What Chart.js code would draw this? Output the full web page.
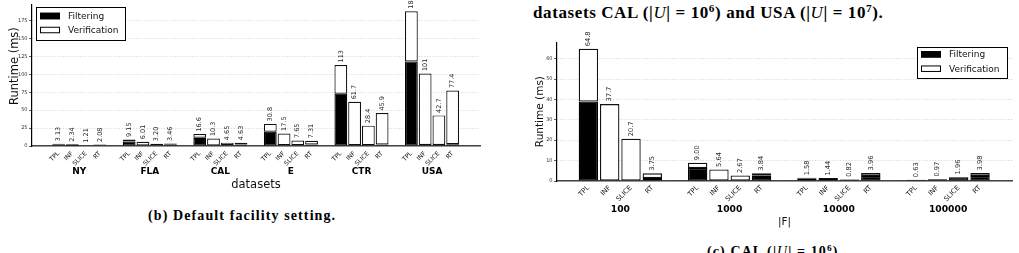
<!DOCTYPE html>
<html><head><meta charset="utf-8"><title>Runtime</title>
<script src="https://cdn.jsdelivr.net/npm/chart.js@4.4.1/dist/chart.umd.min.js"></script>
<style>
html,body{margin:0;padding:0;background:#fff;}
body{width:1019px;height:253px;overflow:hidden;position:relative;}
canvas{position:absolute;display:block;}
#cv1{left:0;top:0;}
#cv2{left:500px;top:25px;}
.cap{position:absolute;font-family:"Liberation Serif","DejaVu Serif",serif;font-weight:bold;color:#000;white-space:nowrap;line-height:1;}
.cap i{font-weight:normal;}
.sup{font-size:0.66em;position:relative;top:-0.5em;}
</style></head><body>
<div class="cap" style="left:533px;top:4px;font-size:17px;letter-spacing:0.6px;">datasets CAL (|<i>U</i>| = 10<span class="sup">6</span>) and USA (|<i>U</i>| = 10<span class="sup">7</span>).</div>
<div class="cap" style="left:148px;top:209px;font-size:14px;letter-spacing:1.1px;">(b) Default facility setting.</div>
<div class="cap" style="left:707px;top:245px;font-size:14px;letter-spacing:1.1px;">(c) CAL (|<i>U</i>| = 10<span class="sup">6</span>)</div>
<canvas id="cv1" width="500" height="193"></canvas>
<canvas id="cv2" width="519" height="205"></canvas>
<script>
// ---------- data ----------
const methods = ['TPL', 'INF', 'SLICE', 'RT'];
const seriesNames = ['Filtering', 'Verification'];

// (b) default facility setting
const datasetNames = ['NY', 'FLA', 'CAL', 'E', 'CTR', 'USA'];
const tplTotal   = [3.13, 9.15, 16.6, 30.8, 113, 188];
const infTotal   = [2.34, 6.01, 10.3, 17.5, 61.7, 101];
const sliceTotal = [1.21, 3.20, 4.65, 7.65, 28.4, 42.7];
const rtTotal    = [2.08, 3.46, 4.63, 7.31, 45.9, 77.4];
const tplFilter   = [2.4, 6.3, 11.5, 20.0, 73, 118];
const infFilter   = [0.5, 0.6, 0.8, 1.0, 1.2, 1.4];
const sliceFilter = [0.6, 0.9, 1.0, 1.0, 1.2, 1.3];
const rtFilter    = [1.2, 1.6, 2.0, 2.0, 2.2, 2.5];
const yTicksLeft = [0, 25, 50, 75, 100, 125, 150, 175];

// (c) CAL, varying |F|
const fSizes = ['100', '1000', '10000', '100000'];
const calTplTotal   = [64.8, 9.00, 1.58, 0.63];
const calInfTotal   = [37.7, 5.64, 1.44, 0.97];
const calSliceTotal = [20.7, 2.67, 0.82, 1.96];
const calRtTotal    = [3.75, 3.84, 3.96, 3.98];
const calTplFilter   = [39.0, 6.4, 1.4, 0.5];
const calInfFilter   = [0.2, 0.2, 1.0, 0.8];
const calSliceFilter = [0.2, 0.2, 0.7, 1.8];
const calRtFilter    = [1.5, 2.6, 2.5, 2.5];
const yTicksRight = [0, 10, 20, 30, 40, 50, 60];

// ---------- helpers ----------
const FONT = '"DejaVu Sans", Verdana, sans-serif';
function fmt(v) { return v >= 100 ? v.toFixed(0) : v >= 10 ? v.toFixed(1) : v.toFixed(2); }

const valueLabels = {
  id: 'valueLabels',
  afterDatasetsDraw(chart, args, o) {
    const ctx = chart.ctx;
    chart.data.datasets.forEach((ds, di) => {
      if (!ds.totals) return;
      chart.getDatasetMeta(di).data.forEach((bar, i) => {
        ctx.save();
        ctx.translate(bar.x, bar.y - o.gap);
        ctx.rotate(-Math.PI / 2);
        ctx.font = o.size + 'px ' + FONT;
        ctx.fillStyle = '#222';
        ctx.textAlign = 'left';
        ctx.textBaseline = 'middle';
        ctx.fillText(fmt(ds.totals[i]), 0, 0);
        ctx.restore();
      });
    });
  }
};

const boxLegend = {
  id: 'boxLegend',
  afterDraw(chart, args, o) {
    const ctx = chart.ctx;
    const items = chart.data.datasets.slice(0, 2);
    ctx.save();
    ctx.fillStyle = '#fff';
    ctx.fillRect(o.x, o.y, o.w, o.h);
    ctx.strokeStyle = '#000';
    ctx.lineWidth = 1;
    ctx.strokeRect(o.x + 0.5, o.y + 0.5, o.w, o.h);
    items.forEach((ds, k) => {
      const yy = o.y + o.first + k * o.step;
      ctx.fillStyle = ds.backgroundColor;
      ctx.fillRect(o.px, yy - o.ph / 2, o.pw, o.ph);
      ctx.strokeStyle = '#000';
      ctx.lineWidth = 1;
      ctx.strokeRect(o.px + 0.5, yy - o.ph / 2 + 0.5, o.pw - 1, o.ph - 1);
      ctx.fillStyle = '#111';
      ctx.font = o.size + 'px ' + FONT;
      ctx.textAlign = 'left';
      ctx.textBaseline = 'middle';
      ctx.fillText(ds.label, o.tx, yy + 0.5);
    });
    ctx.restore();
  }
};

function makeChart(id, c) {
  const catPct = 0.78;
  const datasets = [];
  methods.forEach((m, k) => {
    const f = c.filters[k], t = c.totals[k];
    const common = { stack: m, borderWidth: c.bw, borderSkipped: false,
      categoryPercentage: catPct, barPercentage: c.barPct, xAxisID: 'x', yAxisID: 'y' };
    datasets.push(Object.assign({ label: seriesNames[0], backgroundColor: '#000', borderColor: '#000',
      data: f.map((v, i) => ({ x: i, y: v })) }, common));
    datasets.push(Object.assign({ label: seriesNames[1], backgroundColor: '#fff', borderColor: '#111',
      totals: t, data: t.map((v, i) => ({ x: i, y: +(v - f[i]).toFixed(4) })) }, common));
  });
  const slot = catPct / methods.length;
  const methodPos = [];
  c.groups.forEach((g, i) => methods.forEach((m, k) => methodPos.push(i + (k - (methods.length - 1) / 2) * slot)));

  return new Chart(document.getElementById(id), {
    type: 'bar',
    data: { datasets },
    plugins: [valueLabels, boxLegend],
    options: {
      responsive: false, animation: false, devicePixelRatio: 1,
      layout: { padding: c.padding },
      plugins: {
        legend: { display: false }, tooltip: { enabled: false },
        valueLabels: { gap: 2.5, size: c.valueSize },
        boxLegend: c.legend
      },
      scales: {
        xm: {
          type: 'linear', position: 'bottom', weight: 0, min: c.xMin, max: c.xMax, offset: false,
          afterBuildTicks: s => { s.ticks = methodPos.map(v => ({ value: v })); },
          afterFit: s => { s.height = c.mHeight; },
          grid: { display: false, drawTicks: false },
          border: { display: true, color: '#444', width: 1.5 },
          ticks: { autoSkip: false, minRotation: 45, maxRotation: 45, padding: c.mPad, color: '#111',
            font: { family: FONT, size: c.methodSize },
            callback: (v, i) => methods[i % methods.length] }
        },
        x: {
          type: 'linear', position: 'bottom', weight: 1, min: c.xMin, max: c.xMax, offset: false,
          afterBuildTicks: s => { s.ticks = c.groups.map((g, i) => ({ value: i })); },
          afterFit: s => { s.height = c.gHeight; },
          grid: { display: false, drawTicks: false, offset: false },
          border: { display: false },
          ticks: { autoSkip: false, maxRotation: 0, minRotation: 0, padding: c.gPad, color: '#000',
            font: { family: FONT, size: c.groupSize, weight: 'bold' },
            callback: (v, i) => c.groups[i] },
          title: { display: true, text: c.xTitle, color: '#111', padding: { top: 0, bottom: c.xTitlePad },
            font: { family: FONT, size: c.titleSize } }
        },
        y: {
          type: 'linear', position: 'left', stacked: true, min: 0, max: c.yMax,
          afterBuildTicks: s => { s.ticks = c.yTicks.map(v => ({ value: v })); },
          afterFit: s => { s.width = c.yWidth; },
          grid: { color: '#cfcfcf', lineWidth: 0.8, tickLength: 3, tickColor: '#333', tickWidth: 0.8 },
          border: { display: true, color: '#000', width: 1.2, dash: [1.2, 1.6] },
          ticks: { padding: 1.5, color: '#333', font: { family: FONT, size: c.tickSize } },
          title: { display: true, text: '\u00a0'.repeat(c.yTitleShift) + c.yTitle, color: '#111',
            padding: { top: c.yTitlePad, bottom: 0 },
            font: { family: FONT, size: c.titleSize } }
        }
      }
    }
  });
}

makeChart('cv1', {
  groups: datasetNames,
  totals: [tplTotal, infTotal, sliceTotal, rtTotal],
  filters: [tplFilter, infFilter, sliceFilter, rtFilter],
  yTicks: yTicksLeft, yMax: 197.4, xMin: -0.67, xMax: 5.68,
  yTitle: 'Runtime (ms)', xTitle: 'datasets', yTitleShift: 5,
  padding: { top: 4, right: 20, left: 0, bottom: 0 },
  yWidth: 32, yTitlePad: 8.4, mHeight: 20, mPad: 4, gHeight: 27, gPad: 0, xTitlePad: 1,
  titleSize: 11.5, groupSize: 9, methodSize: 6.2, tickSize: 5, valueSize: 6.5, barPct: 0.93, bw: 1.2,
  legend: { x: 36, y: 7, w: 89, h: 33, first: 9, step: 14, px: 40, pw: 20, ph: 6.5, tx: 68, size: 9 }
});

makeChart('cv2', {
  groups: fSizes,
  totals: [calTplTotal, calInfTotal, calSliceTotal, calRtTotal],
  filters: [calTplFilter, calInfFilter, calSliceFilter, calRtFilter],
  yTicks: yTicksRight, yMax: 68.04, xMin: -0.58, xMax: 3.585,
  yTitle: 'Runtime (ms)', xTitle: '|F|', yTitleShift: 0,
  padding: { top: 17.2, right: 7, left: 0, bottom: 0 },
  yWidth: 57, yTitlePad: 33.5, mHeight: 22, mPad: 3, gHeight: 27, gPad: 1.2, xTitlePad: 1.2,
  titleSize: 10.5, groupSize: 9.2, methodSize: 6.8, tickSize: 5, valueSize: 6.7, barPct: 0.91, bw: 1.3,
  legend: { x: 417, y: 22, w: 90, h: 31, first: 7.3, step: 14.4, px: 421, pw: 20, ph: 6.5, tx: 449, size: 9 }
});
</script>
</body></html>
